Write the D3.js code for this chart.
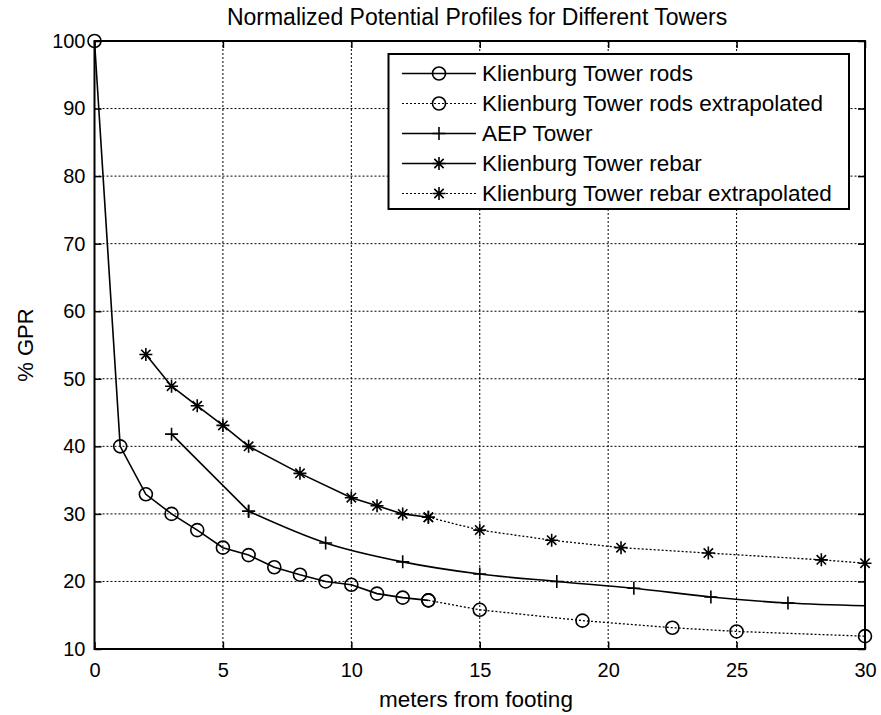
<!DOCTYPE html>
<html><head><meta charset="utf-8">
<script src="https://cdn.jsdelivr.net/npm/d3@7"></script>
<style>body{margin:0;background:#fff}</style>
</head><body>
<svg id="c" width="881" height="715"></svg>
<script>
const title = "Normalized Potential Profiles for Different Towers";
const xLabel = "meters from footing";
const yLabel = "% GPR";
const xTicks = [0,5,10,15,20,25,30];
const yTicks = [10,20,30,40,50,60,70,80,90,100];

const rodsX = [0,1,2,3,4,5,6,7,8,9,10,11,12,13];
const rodsY = [100,40,32.9,30,27.6,25,23.9,22.1,21,20,19.5,18.2,17.6,17.2];
const rodsExtX = [13,15,19,22.5,25,30];
const rodsExtY = [17.2,15.8,14.2,13.15,12.6,11.9];
const aepX = [3,6,9,12,15,18,21,24,27,30];
const aepY = [41.8,30.4,25.7,22.9,21.1,20,19,17.7,16.8,16.4];
const aepMarked = [true,true,true,true,true,true,true,true,true,false];
const rebarX = [2,3,4,5,6,8,10,11,12,13];
const rebarY = [53.6,48.9,46,43.1,40,36,32.4,31.2,30,29.5];
const rebarExtX = [13,15,17.8,20.5,23.9,28.3,30];
const rebarExtY = [29.5,27.6,26.1,25,24.2,23.2,22.7];

const legendNames = ["Klienburg Tower rods","Klienburg Tower rods extrapolated","AEP Tower","Klienburg Tower rebar","Klienburg Tower rebar extrapolated"];
const legendMarkers = ["circle","circle","plus","star","star"];
const legendDotted = [false,true,false,false,true];

const svg = d3.select("#c");
const L=94.5, R=865, T=41, B=649;
const x = d3.scaleLinear().domain([0,30]).range([L,R]);
const y = d3.scaleLinear().domain([10,100]).range([B,T]);
const font = "'Liberation Sans', Arial, sans-serif";

// grid
const g = svg.append("g");
g.selectAll(".gx").data(xTicks.slice(1,-1)).join("line")
  .attr("x1",d=>x(d)).attr("x2",d=>x(d)).attr("y1",T).attr("y2",B)
  .attr("stroke","#000").attr("stroke-width",1).attr("stroke-dasharray","2,2");
g.selectAll(".gy").data(yTicks.slice(1,-1)).join("line")
  .attr("y1",d=>y(d)).attr("y2",d=>y(d)).attr("x1",L).attr("x2",R)
  .attr("stroke","#000").attr("stroke-width",1).attr("stroke-dasharray","2,2");

// axes
const xa = svg.append("g").attr("transform",`translate(0,${B})`)
  .call(d3.axisBottom(x).tickValues(xTicks).tickSizeInner(-7).tickSizeOuter(0).tickPadding(14));
const xt = svg.append("g").attr("transform",`translate(0,${T})`)
  .call(d3.axisTop(x).tickValues(xTicks).tickSizeInner(-7).tickSizeOuter(0).tickFormat(""));
const ya = svg.append("g").attr("transform",`translate(${L},0)`)
  .call(d3.axisLeft(y).tickValues(yTicks).tickSizeInner(-7).tickSizeOuter(0).tickPadding(9));
const yr = svg.append("g").attr("transform",`translate(${R},0)`)
  .call(d3.axisRight(y).tickValues(yTicks).tickSizeInner(-7).tickSizeOuter(0).tickFormat(""));
[xa,xt,ya,yr].forEach(a=>{
  a.select(".domain").remove();
  a.selectAll("line").attr("stroke","#000").attr("stroke-width",1.5);
  a.selectAll("text").attr("font-family",font).attr("font-size",20).attr("fill","#000");
});
svg.append("rect").attr("x",L).attr("y",T).attr("width",R-L).attr("height",B-T)
  .attr("fill","none").attr("stroke","#000").attr("stroke-width",2);

// labels
svg.append("text").attr("x",477).attr("y",25).attr("text-anchor","middle")
  .attr("font-family",font).attr("font-size",23).text(title);
svg.append("text").attr("x",476).attr("y",707).attr("text-anchor","middle")
  .attr("font-family",font).attr("font-size",22.5).text(xLabel);
svg.append("text").attr("transform",`translate(33,${(T+B)/2}) rotate(-90)`).attr("text-anchor","middle")
  .attr("font-family",font).attr("font-size",22).text(yLabel);

function marker(sel, type, cx, cy){
  const s = 6.5;
  if(type==="circle"){
    sel.append("circle").attr("cx",cx).attr("cy",cy).attr("r",s).attr("fill","none").attr("stroke","#000").attr("stroke-width",1.6);
  } else if(type==="plus"){
    sel.append("path").attr("d",`M${cx-s},${cy}H${cx+s}M${cx},${cy-s}V${cy+s}`).attr("stroke","#000").attr("stroke-width",1.6).attr("fill","none");
  } else {
    const d = s*0.72;
    sel.append("path").attr("d",`M${cx-s},${cy}H${cx+s}M${cx},${cy-s}V${cy+s}M${cx-d},${cy-d}L${cx+d},${cy+d}M${cx-d},${cy+d}L${cx+d},${cy-d}`)
      .attr("stroke","#000").attr("stroke-width",1.6).attr("fill","none");
  }
}

function series(xs, ys, dotted, mtype, curve, marked){
  const pts = xs.map((v,i)=>[v,ys[i]]);
  const line = d3.line().x(d=>x(d[0])).y(d=>y(d[1])).curve(curve||d3.curveLinear);
  svg.append("path").datum(pts).attr("d",line).attr("fill","none").attr("stroke","#000")
    .attr("stroke-width",dotted?1.3:1.6).attr("stroke-dasharray",dotted?"2,2":null);
  const mg = svg.append("g");
  pts.forEach((p,i)=>{ if(!marked || marked[i]) marker(mg,mtype,x(p[0]),y(p[1])); });
}

series(rodsExtX, rodsExtY, true, "circle");
series(rodsX, rodsY, false, "circle");
// AEP: straight from 3 to 6, smooth afterwards
series(aepX.slice(0,2), aepY.slice(0,2), false, "plus");
series(aepX.slice(1), aepY.slice(1), false, "plus", d3.curveMonotoneX, aepMarked.slice(1));
series(rebarExtX, rebarExtY, true, "star");
series(rebarX, rebarY, false, "star");

// legend
const lg = svg.append("g");
lg.append("rect").attr("x",388.5).attr("y",54).attr("width",460.5).attr("height",155)
  .attr("fill","#fff").attr("stroke","#000").attr("stroke-width",2);
legendNames.forEach((n,i)=>{
  const cy = 73.5 + i*30;
  lg.append("line").attr("x1",402).attr("x2",476).attr("y1",cy).attr("y2",cy)
    .attr("stroke","#000").attr("stroke-width",legendDotted[i]?1.2:1.6).attr("stroke-dasharray",legendDotted[i]?"2,2":null);
  marker(lg, legendMarkers[i], 439, cy);
  lg.append("text").attr("x",482).attr("y",cy+7).attr("font-family",font).attr("font-size",22.5).text(n);
});
</script>
</body></html>
